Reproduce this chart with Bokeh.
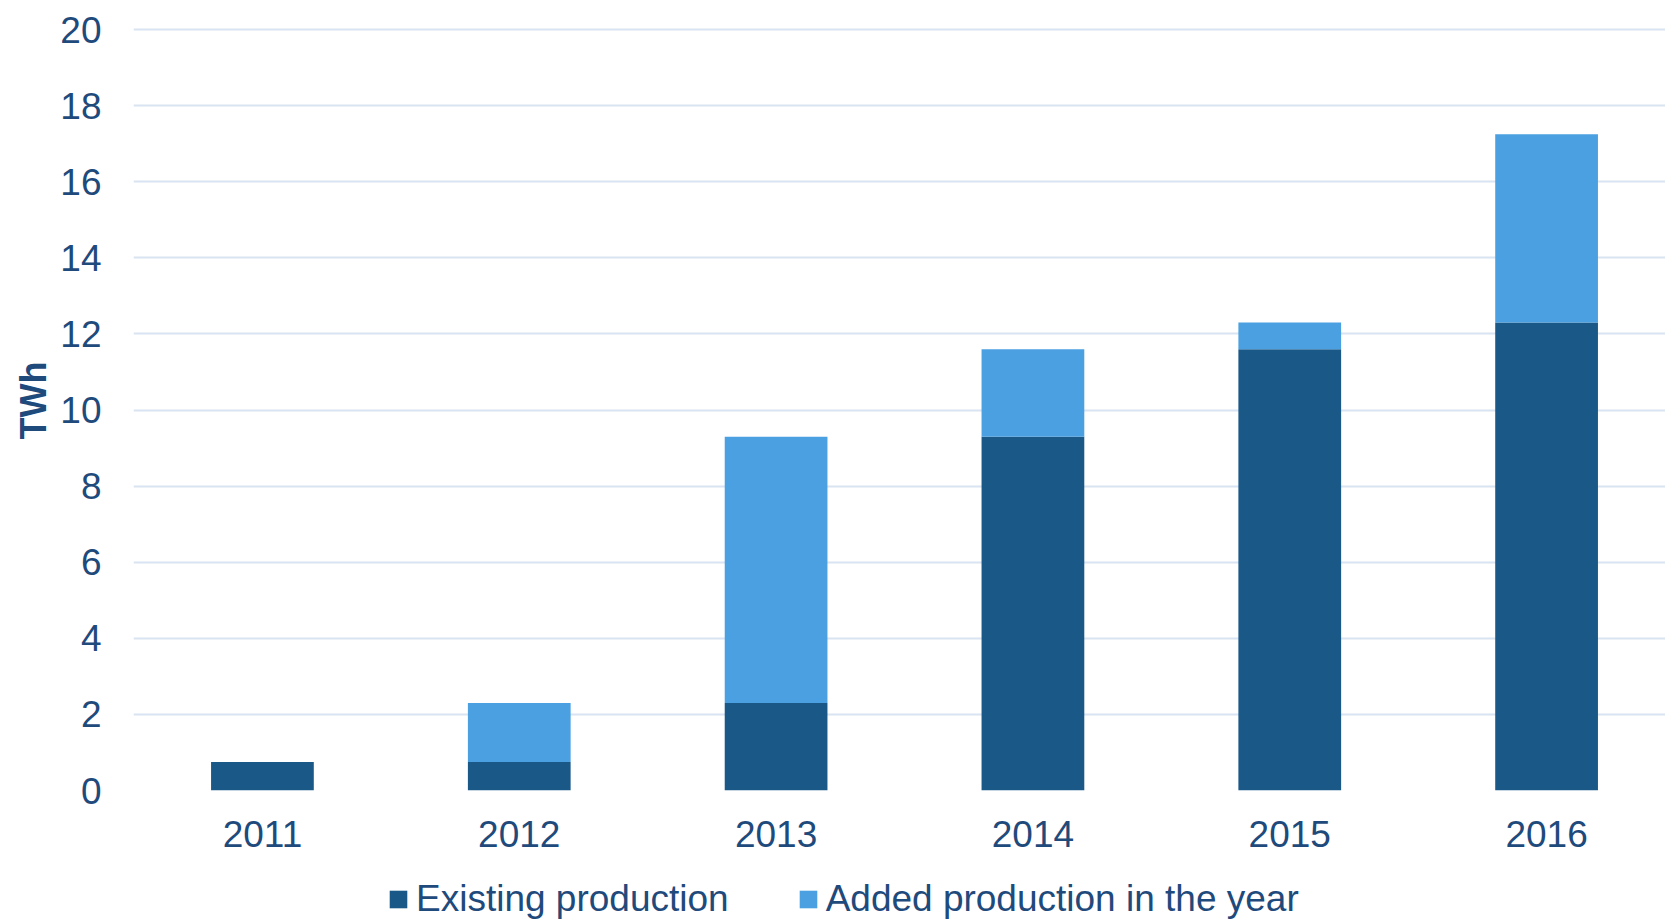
from bokeh.plotting import figure
from bokeh.layouts import column
from bokeh.models import Range1d, FixedTicker, Legend, LegendItem, ColumnDataSource
from bokeh.embed import file_html
from bokeh.resources import INLINE

years = [2011, 2012, 2013, 2014, 2015, 2016]
existing = [0.75, 0.75, 2.3, 9.3, 11.6, 12.3]
added = [0.0, 1.55, 7.0, 2.3, 0.7, 4.95]
series_names = ["Existing production", "Added production in the year"]
y_ticks = [0, 2, 4, 6, 8, 10, 12, 14, 16, 18, 20]

dark = "#1A5888"
light = "#4BA0E1"
text_color = "#1F4A7C"
grid_color = "#D9E4F2"
font = "Liberation Sans"

src = ColumnDataSource(dict(x=years, existing=existing, added=added))

p = figure(frame_width=1532, frame_height=780, output_backend="svg", toolbar_location=None,
           x_range=Range1d(2010.498, 2016.463), y_range=Range1d(0, 20.5),
           min_border_left=133, min_border_right=0, min_border_top=10,
           min_border_bottom=88)
p.outline_line_color = None

rs = p.vbar_stack(["existing", "added"], x="x", width=0.4, source=src,
                  color=[dark, light], line_color=None)

p.xaxis.ticker = FixedTicker(ticks=years)
p.yaxis.ticker = FixedTicker(ticks=y_ticks)
for ax in (p.xaxis[0], p.yaxis[0]):
    ax.axis_line_color = None
    ax.major_tick_line_color = None
    ax.minor_tick_line_color = None
    ax.major_tick_out = 0
    ax.major_tick_in = 0
    ax.major_label_text_color = text_color
    ax.major_label_text_font = font
    ax.major_label_text_font_size = "37px"
p.xaxis.major_label_standoff = 30
p.yaxis.major_label_standoff = 32
p.yaxis.axis_label = "TWh"
p.yaxis.axis_label_text_font = font
p.yaxis.axis_label_text_font_style = "bold"
p.yaxis.axis_label_text_font_size = "36px"
p.yaxis.axis_label_text_color = text_color
p.yaxis.axis_label_standoff = 3

p.xgrid.grid_line_color = None
p.ygrid.grid_line_color = grid_color
p.ygrid.grid_line_width = 2

# legend strip below the chart
lg = figure(width=1665, height=42, output_backend="svg", toolbar_location=None,
            x_range=Range1d(0, 1), y_range=Range1d(0, 1),
            min_border=0, min_border_left=0, min_border_right=0,
            min_border_top=0, min_border_bottom=0)
lg.axis.visible = False
lg.grid.visible = False
lg.outline_line_color = None
lrs = lg.vbar_stack(["existing", "added"], x="x", width=0.4, source=src,
                    color=[dark, light], line_color=None)

legend = Legend(items=[LegendItem(label=series_names[0], renderers=[lrs[0]]),
                       LegendItem(label=series_names[1], renderers=[lrs[1]])],
                orientation="horizontal", location=(254, 0),
                label_text_font=font, label_text_font_size="37px",
                label_text_color=text_color, glyph_width=22, glyph_height=22,
                label_standoff=7, spacing=68, padding=0, margin=0,
                border_line_color=None, background_fill_alpha=0)
lg.add_layout(legend)

layout = column(p, lg, spacing=0)
open("out.html", "w").write(file_html(layout, INLINE))
